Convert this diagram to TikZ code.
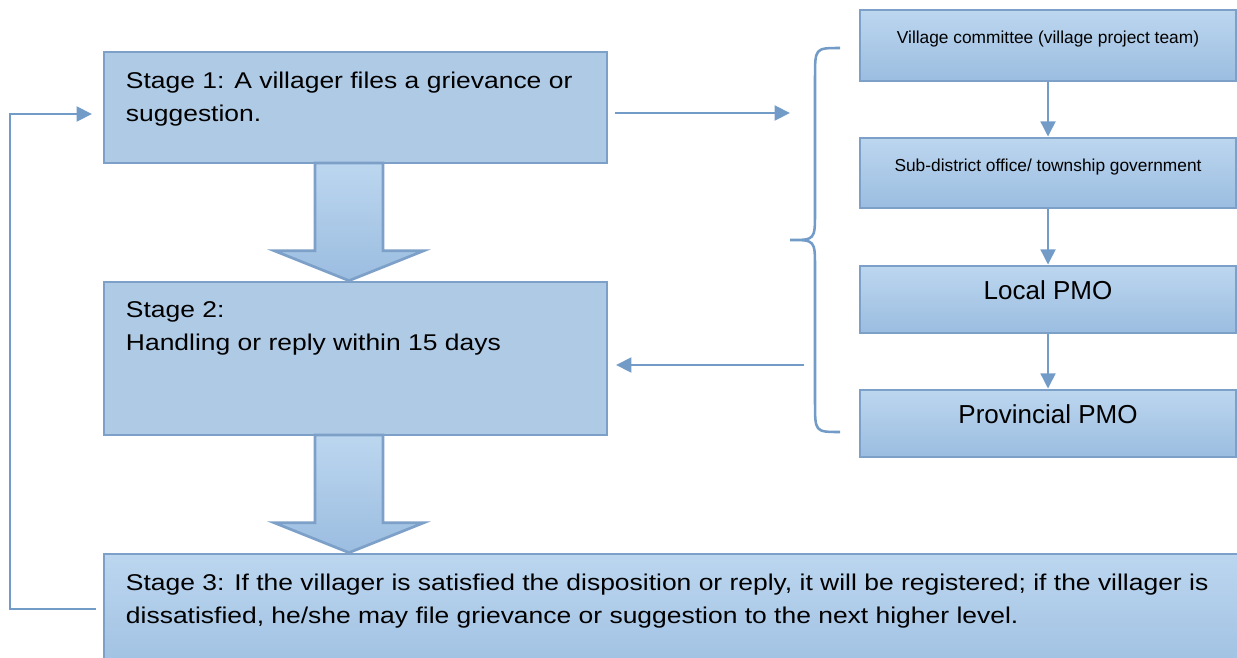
\documentclass[tikz,border=0pt]{standalone}
\usepackage{fontspec}
\setmainfont{Liberation Sans}
\usepackage{tikz}
\usetikzlibrary{arrows.meta,calc,fit}
\definecolor{boxfill}{HTML}{AFCAE5}
\definecolor{boxline}{HTML}{7DA0C9}
\definecolor{topblue}{HTML}{BCD6EF}
\definecolor{botblue}{HTML}{9BBDE0}
\definecolor{linkblue}{HTML}{729CC7}

\begin{document}
\begin{tikzpicture}[x=0.75pt,y=-0.75pt,
  stagebox/.style={draw=boxline, line width=2pt, fill=boxfill, inner sep=0pt},
  stagetext/.style={anchor=north west, inner sep=0pt, align=left, xscale=1.16,
    font=\fontsize{17.1}{24.5}\selectfont},
  levelbox/.style={draw=boxline, line width=2pt, top color=topblue, bottom color=botblue,
    inner sep=0pt},
  bigtext/.style={font=\fontsize{19.5}{23}\selectfont, text height=0.96em, text depth=0.12em},
  smalltext/.style={font=\fontsize{13}{16}\selectfont, text height=1.07em, text depth=0.21em},
  bigarrow/.style={draw=boxline, line width=2pt, top color=topblue, bottom color=botblue},
  link/.style={draw=linkblue, line width=2.2pt, -{Triangle[length=11.5pt,width=11pt]}},
  brace/.style={draw=linkblue, line width=1.9pt}]
\useasboundingbox (0,0) rectangle (1237,657);

% stages on the left
\node[stagebox, fit={(104,52) (607,163)}] (s1) {};
\node[stagebox, fit={(104,282) (607,435)}] (s2) {};
\node[stagebox, top color=topblue, bottom color=botblue, fit={(104,554) (1270,690)}] (s3) {};
\node[stagetext] (s1t) at ([shift={(23,21)}]s1.north west)
  {Stage 1: A villager files a grievance or\\suggestion.};
\node[stagetext] (s2t) at ([shift={(23,21)}]s2.north west)
  {Stage 2:\\Handling or reply within 15 days};
\node[stagetext] (s3t) at ([shift={(23,21)}]s3.north west)
  {Stage 3: If the villager is satisfied the disposition or reply, it will be registered; if the villager is\\
   dissatisfied, he/she may file grievance or suggestion to the next higher level.};

% levels on the right
\node[levelbox, smalltext, fit={(860,10) (1236,81)}] (lv1) {Village committee (village project team)};
\node[levelbox, smalltext, fit={(860,138) (1236,208)}] (lv2) {Sub-district office/ township government};
\node[levelbox, bigtext, fit={(860,266) (1236,333)}] (lv3) {Local PMO};
\node[levelbox, bigtext, fit={(860,390) (1236,457)}] (lv4) {Provincial PMO};
\foreach \a/\b in {lv1/lv2,lv2/lv3,lv3/lv4}
  \draw[link] (\a.south) -- (\b.north);

% block arrows between stages
\coordinate (a1) at (349,163);
\coordinate (a2) at (349,435);
\foreach \top/\tip in {a1/s2,a2/s3}
  \draw[bigarrow] ($(\top)+(-34,0)$) -- ($(\top|-\tip.north)+(-34,-30)$) -- ($(\top|-\tip.north)+(-75,-30)$)
    -- (\top|-\tip.north) -- ($(\top|-\tip.north)+(75,-30)$) -- ($(\top|-\tip.north)+(34,-30)$)
    -- ($(\top)+(34,0)$) -- cycle;

% brace
\draw[brace] (840,48) .. controls (815,48) .. (815,78) -- (815,212) .. controls (815,240) .. (790,240)
  .. controls (815,240) .. (815,268) -- (815,402) .. controls (815,432) .. (840,432);

% connectors
\coordinate (out1) at (615,113);
\coordinate (in1) at (790,113);
\coordinate (out2) at (804,365);
\coordinate (in2) at (616,365);
\draw[link] (out1) -- (in1);
\draw[link] (out2) -- (in2);
\coordinate (back) at (96,609);
\coordinate (fwd) at (92,114);
\draw[link] (back) -- (10,609) -- (10,114) -- (fwd);
\end{tikzpicture}
\end{document}
